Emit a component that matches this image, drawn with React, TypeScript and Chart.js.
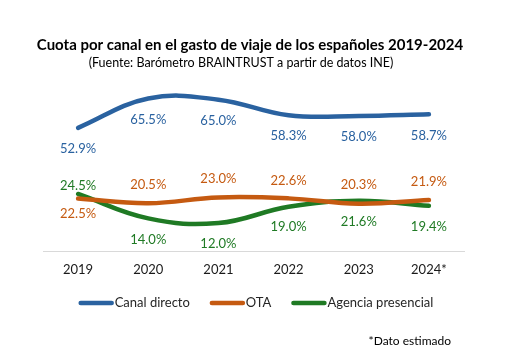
import { useEffect, useRef } from 'react';
import { Chart, registerables } from 'chart.js';

Chart.register(...registerables);

const categories = ['2019', '2020', '2021', '2022', '2023', '2024*'];
const canalDirecto = [52.9, 65.5, 65.0, 58.3, 58.0, 58.7];
const ota = [22.5, 20.5, 23.0, 22.6, 20.3, 21.9];
const agenciaPresencial = [24.5, 14.0, 12.0, 19.0, 21.6, 19.4];

const seriesNames = ['Canal directo', 'OTA', 'Agencia presencial'];
const seriesColors = ['#2A62A0', '#C55A11', '#1F7A24'];

// label placement (px relative to point) — styling, not data
const labelShift = [
  [21, 21, 21, 21, 21, 21],
  [15, -18, -19, -18, -19, -18],
  [-8, 21, 21, 20, 21, 21],
];

const FONT = 'Lato, "Noto Sans", sans-serif';

export default function App() {
  const ref = useRef<HTMLCanvasElement>(null);

  useEffect(() => {
    const canvas = ref.current;
    if (!canvas) return;

    const textPlugin = {
      id: 'textPlugin',
      afterDatasetsDraw(chart: any) {
        const ctx = chart.ctx;
        ctx.save();
        ctx.font = `13px ${FONT}`;
        ctx.textAlign = 'center';
        ctx.textBaseline = 'middle';
        chart.data.datasets.forEach((ds: any, di: number) => {
          const meta = chart.getDatasetMeta(di);
          ctx.fillStyle = ds.borderColor;
          meta.data.forEach((pt: any, i: number) => {
            const v = ds.data[i] as number;
            ctx.fillText(v.toFixed(1) + '%', pt.x, pt.y + labelShift[di][i]);
          });
        });
        ctx.restore();
      },
      afterDraw(chart: any) {
        const ctx = chart.ctx;
        ctx.save();
        ctx.textBaseline = 'middle';
        ctx.textAlign = 'center';
        ctx.fillStyle = '#000';
        ctx.font = `bold 15px ${FONT}`;
        ctx.fillText('Cuota por canal en el gasto de viaje de los españoles 2019-2024', 250, 45);
        ctx.font = `12.5px ${FONT}`;
        ctx.fillText('(Fuente: Barómetro BRAINTRUST a partir de datos INE)', 241, 63);

        // legend
        ctx.font = `13px ${FONT}`;
        const lineLen = 35;
        const gap = 20;
        const ds = chart.data.datasets;
        const widths = ds.map((d: any) => lineLen + 1 + ctx.measureText(d.label).width);
        const total = widths.reduce((a: number, b: number) => a + b, 0) + gap * (ds.length - 1);
        let x = 256 - total / 2;
        const ly = 303;
        ds.forEach((d: any, i: number) => {
          ctx.strokeStyle = d.borderColor;
          ctx.lineWidth = 4.5;
          ctx.lineCap = 'round';
          ctx.beginPath();
          ctx.moveTo(x + 2, ly);
          ctx.lineTo(x + lineLen - 2, ly);
          ctx.stroke();
          ctx.fillStyle = '#262626';
          ctx.textAlign = 'left';
          ctx.fillText(d.label, x + lineLen + 1, ly);
          x += widths[i] + gap;
        });

        ctx.font = `12px ${FONT}`;
        ctx.textAlign = 'right';
        ctx.fillStyle = '#000';
        ctx.fillText('*Dato estimado', 451, 341);
        ctx.restore();
      },
    };

    const series = [canalDirecto, ota, agenciaPresencial];
    const chart = new Chart(canvas, {
      type: 'line',
      data: {
        labels: categories,
        datasets: series.map((data, i) => ({
          label: seriesNames[i],
          data,
          borderColor: seriesColors[i],
          backgroundColor: seriesColors[i],
          borderWidth: 4.5,
          borderCapStyle: 'round',
          pointRadius: 0,
          tension: 0.4,
          fill: false,
        })),
      },
      options: {
        responsive: false,
        maintainAspectRatio: false,
        animation: false,
        layout: { padding: { top: 88, left: 43, right: 41, bottom: 83 } },
        plugins: {
          legend: { display: false },
          title: { display: false },
          tooltip: { enabled: false },
        },
        scales: {
          x: {
            offset: true,
            grid: { display: false },
            border: { display: true, color: '#d9d9d9', width: 1 },
            ticks: { font: { family: FONT, size: 13 }, color: '#1a1a1a' },
            afterFit: (s: any) => {
              s.height = 30;
            },
          },
          y: { display: false, min: 0, max: 70 },
        },
      },
      plugins: [textPlugin],
    } as any);

    return () => chart.destroy();
  }, []);

  return (
    <div style={{ position: 'fixed', left: 0, top: 0, width: 505, height: 364, background: '#fff' }}>
      <canvas ref={ref} width={505} height={364} style={{ width: 505, height: 364, display: 'block' }} />
    </div>
  );
}
